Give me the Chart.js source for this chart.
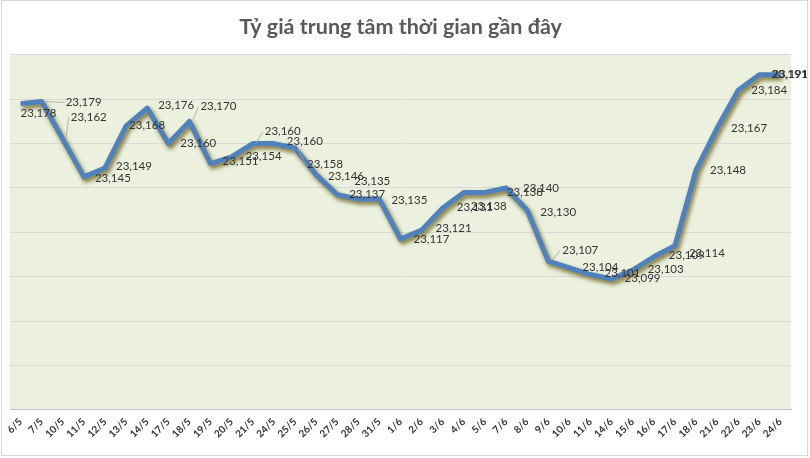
<!DOCTYPE html>
<html>
<head>
<meta charset="utf-8">
<script src="https://cdn.jsdelivr.net/npm/chart.js@4.4.1/dist/chart.umd.min.js"></script>
<style>
  body { margin: 0; background: #fff; }
</style>
</head>
<body>
<canvas id="chart" width="810" height="458"></canvas>
<script>
// dates on the x axis
const days = ['6/5', '7/5', '10/5', '11/5', '12/5', '13/5', '14/5', '17/5', '18/5', '19/5',
  '20/5', '21/5', '24/5', '25/5', '26/5', '27/5', '28/5', '31/5', '1/6', '2/6',
  '3/6', '4/6', '5/6', '7/6', '8/6', '9/6', '10/6', '11/6', '14/6', '15/6',
  '16/6', '17/6', '18/6', '21/6', '22/6', '23/6', '24/6'];

// central rate, VND/USD
const rates = [23178, 23179, 23162, 23145, 23149, 23168, 23176, 23160, 23170, 23151,
  23154, 23160, 23160, 23158, 23146, 23137, 23135, 23135, 23117, 23121,
  23131, 23138, 23138, 23140, 23130, 23107, 23104, 23101, 23099, 23103,
  23109, 23114, 23148, 23167, 23184, 23191, 23191];

const yMin = 23040;
const yMax = 23200;
const yStep = 20;

// where each value label sits relative to its point (left edge dx, middle dy)
const labelShift = [[0, 10], [24, 1], [8, -22], [11, 1], [11, -2], [3, -1], [11, -3], [12, 0], [11, -15], [12, -2],
  [14, -1], [12, -12], [13, -2], [12, 16], [12, 2], [12, 0], [-4, -18], [12, 1], [13, 0], [14, -2],
  [14, -1], [7, 14], [22, 0], [17, 0], [13, 2], [14, -11], [13, -1], [14, -1], [13, -1], [15, -1],
  [15, -1], [14, 8], [14, 0], [14, 0], [13, 0], [12, 0], [-8, 0]];
const leaders = [1, 2, 8, 11, 13, 25];

const fmt = v => v.toLocaleString('en-US');

const frame = {
  id: 'frame',
  beforeDraw(chart) {
    const { ctx, chartArea: a } = chart;
    ctx.save();
    ctx.fillStyle = '#ebf1de';
    ctx.fillRect(a.left, a.top, a.right - a.left, a.bottom - a.top);
    ctx.restore();
  },
  beforeDatasetDraw(chart) {
    const ctx = chart.ctx;
    ctx.save();
    ctx.shadowColor = 'rgba(105, 90, 25, 0.85)';
    ctx.shadowBlur = 4;
    ctx.shadowOffsetX = 2;
    ctx.shadowOffsetY = 3;
  },
  afterDatasetDraw(chart) {
    chart.ctx.restore();
  },
  afterDatasetsDraw(chart) {
    const ctx = chart.ctx;
    const pts = chart.getDatasetMeta(0).data;
    ctx.save();
    ctx.font = '11.5px Lato';
    ctx.fillStyle = '#333333';
    ctx.textAlign = 'left';
    ctx.textBaseline = 'middle';
    pts.forEach((p, i) => {
      const lx = p.x + labelShift[i][0];
      const ly = p.y + labelShift[i][1];
      if (leaders.includes(i)) {
        ctx.strokeStyle = '#a6a6a6';
        ctx.lineWidth = 0.8;
        ctx.beginPath();
        ctx.moveTo(p.x + 3, p.y);
        ctx.lineTo(lx - 2, ly);
        ctx.stroke();
      }
      ctx.fillText(fmt(rates[i]), lx, ly);
    });
    ctx.restore();
  },
  afterDraw(chart) {
    const ctx = chart.ctx;
    ctx.save();
    ctx.strokeStyle = '#d9d9d9';
    ctx.lineWidth = 1;
    ctx.strokeRect(1.5, 0.5, 806, 455);
    ctx.restore();
  }
};

new Chart(document.getElementById('chart'), {
  type: 'line',
  data: {
    labels: days,
    datasets: [{
      data: rates,
      borderColor: '#4f81bd',
      borderWidth: 5,
      pointRadius: 0,
      tension: 0,
      borderJoinStyle: 'round',
      fill: false
    }]
  },
  options: {
    responsive: false,
    animation: false,
    layout: {
      padding: { left: 10, right: 19, top: 0, bottom: 12 }
    },
    plugins: {
      legend: { display: false },
      tooltip: { enabled: false },
      title: {
        display: true,
        text: 'Tỷ giá trung tâm thời gian gần đây',
        color: '#595959',
        font: { family: 'Lato', size: 21.5, weight: 'bold' },
        padding: { top: 14, bottom: 15 }
      }
    },
    scales: {
      x: {
        offset: true,
        grid: { display: false, drawTicks: false },
        border: { color: '#bfbfbf' },
        ticks: {
          autoSkip: false,
          maxRotation: 45,
          minRotation: 45,
          padding: 6,
          color: '#333333',
          font: { family: 'Lato', size: 10, weight: 'bold' }
        }
      },
      y: {
        min: yMin,
        max: yMax,
        grid: { color: '#d9d9d9', drawTicks: false },
        border: { display: false },
        ticks: { display: false, stepSize: yStep }
      }
    }
  },
  plugins: [frame]
});
</script>
</body>
</html>
